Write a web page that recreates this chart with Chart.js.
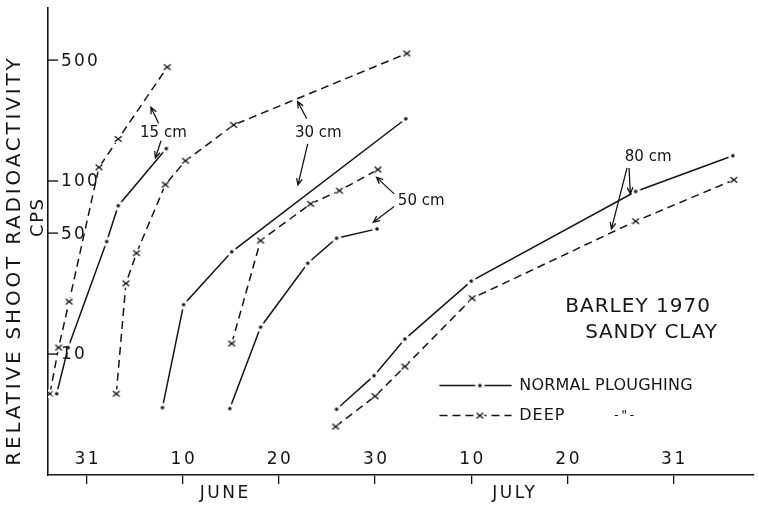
<!DOCTYPE html>
<html>
<head>
<meta charset="utf-8">
<script src="https://cdn.jsdelivr.net/npm/chart.js@4.4.0/dist/chart.umd.min.js"></script>
<style>
html,body{margin:0;padding:0;background:#fff;}
#wrap{width:759px;height:507px;}
</style>
</head>
<body>
<div id="wrap"><canvas id="c" width="759" height="507"></canvas></div>
<script>
// Barley 1970, sandy clay: relative shoot radioactivity (counts per second)
// after placing the tracer at four depths, normal vs deep ploughing.
// Days are counted from 31 May 1970 (day 0): 10 June = 10, 10 July = 40, 31 July = 61.

const depth15NormalDays = [-3.1, -1.9, 2.1, 3.3, 8.3];
const depth15NormalCps  = [5.9, 10.9, 44.7, 72, 154];
const depth15DeepDays   = [-3.8, -2.9, -1.8, 1.3, 3.3, 8.4];
const depth15DeepCps    = [5.9, 10.9, 20.1, 120, 175, 455];

const depth30NormalDays = [7.9, 10.1, 15.1, 33.2];
const depth30NormalCps  = [4.9, 19.3, 39, 229];
const depth30DeepDays   = [3.1, 4.1, 5.2, 8.2, 10.3, 15.3, 33.3];
const depth30DeepCps    = [5.9, 25.6, 38.3, 95.4, 131, 211, 546];

const depth50NormalDays = [14.9, 18.1, 23.0, 26.0, 30.2];
const depth50NormalCps  = [4.84, 14.3, 33.5, 46.7, 52.9];
const depth50DeepDays   = [15.1, 18.1, 23.3, 26.3, 30.3];
const depth50DeepCps    = [11.5, 45.3, 73.8, 88, 116.5];

const depth80NormalDays = [26.0, 29.9, 33.1, 40.0, 57.1, 67.2];
const depth80NormalCps  = [4.8, 7.5, 12.2, 26.4, 87, 140];
const depth80DeepDays   = [25.9, 30.0, 33.1, 40.1, 57.1, 67.3];
const depth80DeepCps    = [3.81, 5.7, 8.47, 21.0, 58.6, 101.6];

const dateTickDays   = [0, 10, 20, 30, 40, 50, 61];
const dateTickLabels = ['31', '10', '20', '30', '10', '20', '31'];
const monthLabels    = ['JUNE', 'JULY'];
const monthMidDays   = [14.3, 44.4];
const cpsTickValues  = [500, 100, 50, 10];
const cpsTickLabels  = ['500', '100', '50', '10'];

// Depth call-outs, placed in (day, cps) space.
const callouts = [
  { text: '15 cm', at: [8.0, 190], arrows: [[7.5, 216, 6.7, 267], [7.75, 171, 7.16, 136]] },
  { text: '30 cm', at: [24.1, 190], arrows: [[22.9, 229, 21.96, 288], [23.0, 164, 21.99, 95]] },
  { text: '50 cm', at: [34.8, 77], arrows: [[31.99, 84.3, 30.16, 105], [31.99, 71.2, 29.82, 57.8]] },
  { text: '80 cm', at: [58.4, 137], arrows: [[56.2, 119, 54.58, 52.9], [56.41, 119, 56.55, 84.3]] }
];

const INK = '#151515';
const FONT = '"DejaVu Sans", "Liberation Sans", sans-serif';

function makeMarker(kind) {
  const c = document.createElement('canvas');
  c.width = 16; c.height = 16;
  const g = c.getContext('2d');
  g.fillStyle = '#fff';
  g.beginPath(); g.arc(8, 8, kind === 'x' ? 4.6 : 4.8, 0, Math.PI * 2); g.fill();
  g.strokeStyle = INK; g.fillStyle = INK; g.lineWidth = 1.4;
  if (kind === 'x') {
    g.beginPath();
    g.moveTo(4.6, 5.2); g.lineTo(11.4, 10.8);
    g.moveTo(11.4, 5.2); g.lineTo(4.6, 10.8);
    g.stroke();
  } else {
    g.beginPath(); g.arc(8, 8, 1.8, 0, Math.PI * 2); g.fill();
  }
  return c;
}
const normalMarker = makeMarker('dot');
const deepMarker = makeMarker('x');
const DEEP_DASH = [8, 5];

function series(label, days, cps, deep) {
  return {
    label,
    data: days.map((d, i) => ({ x: d, y: cps[i] })),
    borderColor: INK,
    borderWidth: 1.5,
    borderDash: deep ? DEEP_DASH : [],
    pointStyle: deep ? deepMarker : normalMarker,
    pointRadius: 4,
    pointHoverRadius: 4,
    tension: 0,
    fill: false
  };
}

function drawText(ctx, str, x, y, size, spacing, align, rotate) {
  ctx.save();
  ctx.font = size + 'px ' + FONT;
  ctx.letterSpacing = spacing + 'px';
  ctx.fillStyle = INK;
  ctx.textBaseline = 'middle';
  ctx.textAlign = 'left';
  ctx.translate(x, y);
  if (rotate) ctx.rotate(rotate);
  const w = ctx.measureText(str).width - spacing;
  const x0 = align === 'center' ? -w / 2 : (align === 'right' ? -w : 0);
  ctx.fillText(str, x0, 0);
  ctx.restore();
}

function drawArrow(ctx, x1, y1, x2, y2) {
  const a = Math.atan2(y2 - y1, x2 - x1);
  const L = 7, s = 0.42;
  ctx.beginPath();
  ctx.moveTo(x1, y1); ctx.lineTo(x2, y2);
  ctx.moveTo(x2 - L * Math.cos(a - s), y2 - L * Math.sin(a - s));
  ctx.lineTo(x2, y2);
  ctx.lineTo(x2 - L * Math.cos(a + s), y2 - L * Math.sin(a + s));
  ctx.stroke();
}

const decorations = {
  id: 'decorations',
  beforeDraw(chart) {
    const ctx = chart.ctx;
    ctx.save();
    ctx.fillStyle = '#fff';
    ctx.fillRect(0, 0, chart.width, chart.height);
    ctx.restore();
  },
  afterDraw(chart) {
    const ctx = chart.ctx;
    const xs = chart.scales.x, ys = chart.scales.y;
    const area = chart.chartArea;
    const X = d => xs.getPixelForValue(d);
    const Y = v => ys.getPixelForValue(v);

    ctx.save();
    ctx.strokeStyle = INK;
    ctx.lineWidth = 1.4;

    // value axis: short inward ticks with labels inside the frame
    cpsTickValues.forEach((v, i) => {
      const y = Y(v);
      ctx.beginPath(); ctx.moveTo(area.left, y); ctx.lineTo(area.left + 10, y); ctx.stroke();
      drawText(ctx, cpsTickLabels[i], area.left + 13, y + 1, 17, 2.2, 'left');
    });

    // date labels sit just above the time axis
    dateTickDays.forEach((d, i) => {
      drawText(ctx, dateTickLabels[i], X(d), area.bottom - 15, 17, 2.5, 'center');
    });
    monthLabels.forEach((m, i) => {
      drawText(ctx, m, X(monthMidDays[i]), area.bottom + 19, 17, 2.5, 'center');
    });

    // axis titles
    drawText(ctx, 'RELATIVE SHOOT RADIOACTIVITY', 15, 262, 20, 2.8, 'center', -Math.PI / 2);
    drawText(ctx, 'CPS', 38, 218, 18, 1.6, 'center', -Math.PI / 2);

    // depth call-outs
    ctx.lineWidth = 1.3;
    callouts.forEach(c => {
      drawText(ctx, c.text, X(c.at[0]), Y(c.at[1]), 15, 0, 'center');
      c.arrows.forEach(a => drawArrow(ctx, X(a[0]), Y(a[1]), X(a[2]), Y(a[3])));
    });

    // site note
    drawText(ctx, 'BARLEY 1970', X(57.3), Y(18.8), 20, 1, 'center');
    drawText(ctx, 'SANDY CLAY', X(58.7), Y(13.3), 20, 0.8, 'center');

    // key
    const kx0 = X(36.7), kx1 = X(44.2), kmid = X(40.9), ktext = X(45.0);
    const r1 = Y(6.58), r2 = Y(4.41);
    ctx.lineWidth = 1.5;
    ctx.beginPath(); ctx.moveTo(kx0, r1); ctx.lineTo(kx1, r1); ctx.stroke();
    ctx.drawImage(normalMarker, kmid - 8, r1 - 8);
    ctx.setLineDash(DEEP_DASH);
    ctx.beginPath(); ctx.moveTo(kx0, r2); ctx.lineTo(kx1, r2); ctx.stroke();
    ctx.setLineDash([]);
    ctx.drawImage(deepMarker, kmid - 8, r2 - 8);
    drawText(ctx, 'NORMAL PLOUGHING', ktext, r1, 16, 0.2, 'left');
    drawText(ctx, 'DEEP', ktext, r2, 16, 1, 'left');
    drawText(ctx, '-"-', X(55.9), r2, 13, 2.5, 'center');
    ctx.restore();
  }
};

const datasets = [
  series('15 cm normal', depth15NormalDays, depth15NormalCps, false),
  series('15 cm deep', depth15DeepDays, depth15DeepCps, true),
  series('30 cm normal', depth30NormalDays, depth30NormalCps, false),
  series('30 cm deep', depth30DeepDays, depth30DeepCps, true),
  series('50 cm normal', depth50NormalDays, depth50NormalCps, false),
  series('50 cm deep', depth50DeepDays, depth50DeepCps, true),
  series('80 cm normal', depth80NormalDays, depth80NormalCps, false),
  series('80 cm deep', depth80DeepDays, depth80DeepCps, true)
];

new Chart(document.getElementById('c'), {
  type: 'line',
  data: { datasets },
  options: {
    responsive: false,
    animation: false,
    devicePixelRatio: 1,
    events: [],
    layout: { padding: { top: 8, right: 2, left: 0, bottom: 0 } },
    plugins: { legend: { display: false }, tooltip: { enabled: false } },
    scales: {
      x: {
        type: 'linear',
        min: -4.0,
        max: 69.35,
        afterBuildTicks: s => { s.ticks = dateTickDays.map(v => ({ value: v })); },
        afterFit: s => { s.height = 32; },
        ticks: { display: false },
        grid: { drawOnChartArea: false, drawTicks: true, tickLength: 9, color: INK, lineWidth: 1.3 },
        border: { display: true, color: INK, width: 1.6 }
      },
      y: {
        type: 'logarithmic',
        min: 2,
        max: 1000,
        afterFit: s => { s.width = 48; },
        ticks: { display: false },
        grid: { display: false },
        border: { display: true, color: INK, width: 1.6 }
      }
    }
  },
  plugins: [decorations]
});
</script>
</body>
</html>
